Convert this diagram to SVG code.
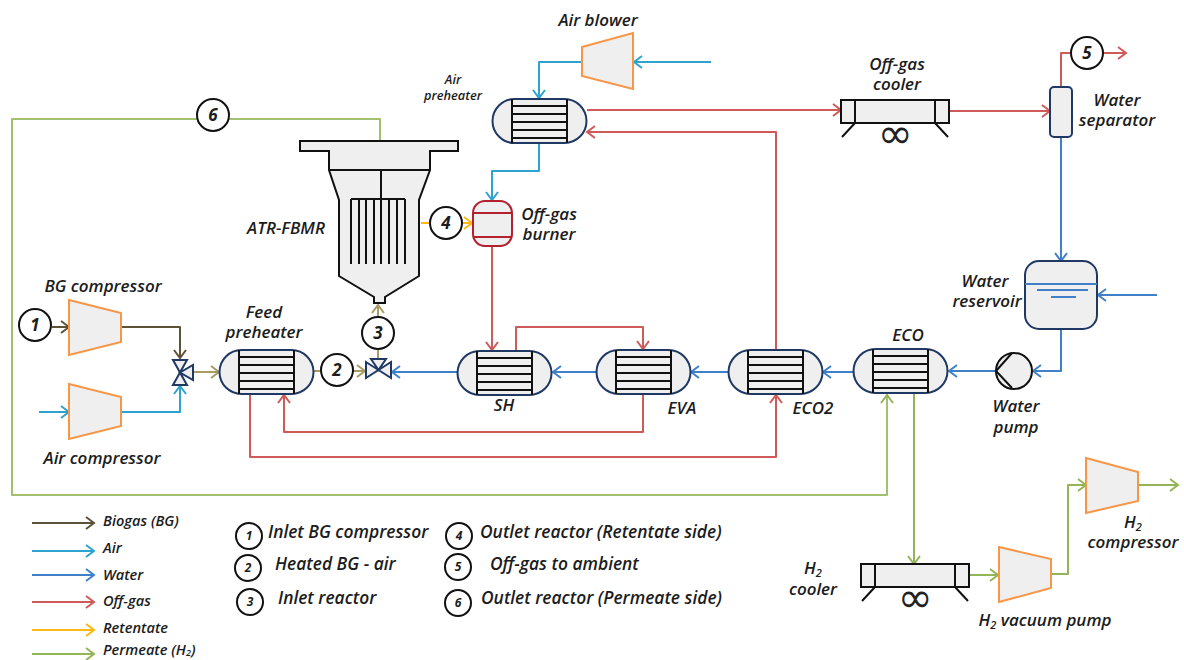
<svg xmlns="http://www.w3.org/2000/svg" width="1184" height="660" viewBox="0 0 1184 660">
<style>
.lb{font-family:"Open Sans","Liberation Sans",sans-serif;font-style:italic;font-weight:600;font-size:17px;fill:#1c1c1c;text-anchor:middle}
.lg{font-size:14.6px;text-anchor:start}
.k{font-size:17.4px;text-anchor:start}
.sm{font-size:12.8px}
.num{font-size:17px;font-weight:700}
.numk{font-size:12px;font-weight:700}
.c{fill:#fff;stroke:#111;stroke-width:2}
.eq{fill:#efefef}
.t{stroke:#f79646;stroke-width:2;fill:#efefef}
.bk{stroke:#111;stroke-width:2;fill:none}
.nv{stroke:#1f3864;stroke-width:2}
.f{fill:none;stroke-width:2;stroke-linejoin:round}
.bg{stroke:#5b5238;marker-end:url(#mbg)}
.air{stroke:#2ea3cf;marker-end:url(#mair)}
.wa{stroke:#4080c8;marker-end:url(#mwa)}
.of{stroke:#cf5a5a;marker-end:url(#mof)}
.re{stroke:#ffb912;marker-end:url(#mre)}
.pe{stroke:#93b558;marker-end:url(#mpe)}
.mx{stroke:#a89a63;marker-end:url(#mmx)}
.n{marker-end:none}
.inf{font-family:"DejaVu Sans",sans-serif;font-size:42px;fill:#222;text-anchor:middle}
</style>
<defs>
<marker id="mbg" markerUnits="userSpaceOnUse" markerWidth="12" markerHeight="14" refX="10" refY="7" orient="auto"><path d="M2,1L10,7L2,13" fill="none" stroke="#5b5238" stroke-width="2"/></marker>
<marker id="mair" markerUnits="userSpaceOnUse" markerWidth="12" markerHeight="14" refX="10" refY="7" orient="auto"><path d="M2,1L10,7L2,13" fill="none" stroke="#2ea3cf" stroke-width="2"/></marker>
<marker id="mwa" markerUnits="userSpaceOnUse" markerWidth="12" markerHeight="14" refX="10" refY="7" orient="auto"><path d="M2,1L10,7L2,13" fill="none" stroke="#4080c8" stroke-width="2"/></marker>
<marker id="mof" markerUnits="userSpaceOnUse" markerWidth="12" markerHeight="14" refX="10" refY="7" orient="auto"><path d="M2,1L10,7L2,13" fill="none" stroke="#cf5a5a" stroke-width="2"/></marker>
<marker id="mre" markerUnits="userSpaceOnUse" markerWidth="12" markerHeight="14" refX="10" refY="7" orient="auto"><path d="M2,1L10,7L2,13" fill="none" stroke="#ffb912" stroke-width="2"/></marker>
<marker id="mpe" markerUnits="userSpaceOnUse" markerWidth="12" markerHeight="14" refX="10" refY="7" orient="auto"><path d="M2,1L10,7L2,13" fill="none" stroke="#93b558" stroke-width="2"/></marker>
<marker id="mmx" markerUnits="userSpaceOnUse" markerWidth="12" markerHeight="14" refX="10" refY="7" orient="auto"><path d="M2,1L10,7L2,13" fill="none" stroke="#a89a63" stroke-width="2"/></marker>
<g id="hx">
<rect x="0.5" y="0" width="94" height="44" rx="22" class="eq nv"/>
<path d="M20,0V44M75,0V44M20,7H75M20,15H75M20,23H75M20,31H75M20,39H75" class="bk"/>
</g>
<g id="cool">
<rect x="0" y="0" width="108" height="23" class="eq" stroke="#111" stroke-width="2"/>
<path d="M14,0V23M94,0V23M14,23L1,37M94,23L107,37" class="bk"/>
</g>
</defs>

<g id="connectors">
<path class="f pe n" stroke-opacity=".85" d="M380,141V119H229"/>
<path class="f pe" stroke-opacity=".85" d="M197,119H12V495H887V395"/>
<path class="f bg" d="M52,327H69"/>
<path class="f bg" d="M121,327H180V358"/>
<path class="f air" d="M39,412H69"/>
<path class="f air" d="M121,412H180V386"/>
<path class="f mx" d="M193,372H219"/>
<path class="f mx n" d="M313,371H321"/>
<path class="f mx" d="M353,371H365"/>
<path class="f mx n" d="M378,359V349"/>
<path class="f mx" d="M378,317V305"/>
<path class="f re n" d="M421,223H430"/>
<path class="f re" d="M462,223H472"/>
<path class="f air" d="M711,62H634"/>
<path class="f air" d="M582,62H539V98"/>
<path class="f air" d="M539,143V171H492V200"/>
<path class="f of" d="M492,246V350"/>
<path class="f of" d="M516,350V327H643V349"/>
<path class="f of" d="M643,393V432H284V395"/>
<path class="f of" d="M250,393V457H776V395"/>
<path class="f of" d="M776,350V132H587"/>
<path class="f of" d="M587,110H841"/>
<path class="f of" d="M949,111H1050"/>
<path class="f of n" d="M1061,87V53H1071"/>
<path class="f of" d="M1103,53H1126"/>
<path class="f wa" d="M1061,137V261"/>
<path class="f wa" d="M1157,295H1098"/>
<path class="f wa" d="M1061,329V371H1033"/>
<path class="f wa" d="M996,371H949"/>
<path class="f wa" d="M853,372H823"/>
<path class="f wa" d="M728,372H691"/>
<path class="f wa" d="M596,372H553"/>
<path class="f wa" d="M457,372H392"/>
<path class="f pe" d="M914,393V564"/>
<path class="f pe" d="M969,575H998"/>
<path class="f pe" d="M1051,574H1068V485H1086"/>
<path class="f pe" d="M1138,485H1178"/>
</g>

<g id="bg-compressor"><path class="t" d="M69,300L121,313V342L69,355Z"/><text class="lb" x="103" y="292">BG compressor</text></g>
<g id="air-compressor"><path class="t" d="M69,384L121,397V426L69,439Z"/><text class="lb" x="102" y="464">Air compressor</text></g>
<g id="mixer"><path class="nv" fill="#efefef" d="M173,360H187L173,385H187ZM180,372.500L193,365V380Z"/></g>
<g id="feed-preheater"><use href="#hx" x="219" y="350"/><text class="lb" x="264" y="318">Feed</text><text class="lb" x="264" y="338">preheater</text></g>
<g id="valve"><path class="nv" fill="#efefef" d="M366,362L391,378V362L366,378ZM378.500,370L371,359H386Z"/></g>
<g id="reactor">
<path class="bk" style="fill:#efefef" d="M300,141H458V151H430V170L419,200V276L385,297V303H374V297L339,276V200L329,170V151H300Z"/>
<path class="bk" d="M329,170H430M381,170V264M351,199H405M351,199V264M359,199V264M366,199V264M374,199V264M389,199V264M397,199V264M405,199V264"/>
<text class="lb" x="286" y="234">ATR-FBMR</text>
</g>
<g id="burner"><rect x="473" y="201" width="39" height="45" rx="12" class="eq" stroke="#b5202e" stroke-width="2"/><path d="M473,213H512M473,237H512" stroke="#b5202e" stroke-width="2"/><text class="lb" x="549" y="220">Off-gas</text><text class="lb" x="549" y="240">burner</text></g>
<g id="air-preheater"><use href="#hx" x="492" y="99"/><text class="lb sm" x="453" y="84">Air</text><text class="lb sm" x="453" y="100">preheater</text></g>
<g id="air-blower"><path class="t" d="M582,47L633,33V89L582,76Z"/><text class="lb" x="598" y="26">Air blower</text></g>
<g id="off-gas-cooler"><use href="#cool" x="841" y="100"/><text class="inf" x="895" y="148">∞</text><text class="lb" x="897" y="70">Off-gas</text><text class="lb" x="897" y="90">cooler</text></g>
<g id="water-separator"><rect x="1050" y="87" width="22" height="50" rx="4" class="eq nv"/><text class="lb" x="1117" y="106">Water</text><text class="lb" x="1117" y="126">separator</text></g>
<g id="water-reservoir"><rect x="1025" y="261" width="72" height="68" rx="14" class="eq nv"/><path d="M1025,284H1097M1037,290H1088M1051,297H1076" stroke="#4080c8" stroke-width="2"/><text class="lb" x="985" y="287">Water</text><text class="lb" x="987" y="307">reservoir</text></g>
<g id="water-pump"><circle cx="1014" cy="371" r="18" class="eq" stroke="#111" stroke-width="2"/><path d="M1012,353L996,371L1012,388" class="bk"/><text class="lb" x="1016" y="412">Water</text><text class="lb" x="1016" y="433">pump</text></g>
<g id="eco"><use href="#hx" x="853" y="349"/><text class="lb" x="908" y="341">ECO</text></g>
<g id="eco2"><use href="#hx" x="728" y="350"/><text class="lb" x="813" y="414">ECO2</text></g>
<g id="eva"><use href="#hx" x="596" y="350"/><text class="lb" x="682" y="414">EVA</text></g>
<g id="sh"><use href="#hx" x="457" y="351"/><text class="lb" x="504" y="411">SH</text></g>
<g id="h2-cooler"><use href="#cool" x="861" y="564"/><text class="inf" x="915" y="612">∞</text><text class="lb" x="813" y="574">H<tspan font-size="11" dy="3">2</tspan></text><text class="lb" x="813" y="595">cooler</text></g>
<g id="h2-vacuum-pump"><path class="t" d="M999,547L1051,559V588L999,602Z"/><text class="lb" x="1045" y="626">H<tspan font-size="11" dy="3">2</tspan><tspan dy="-3"> vacuum pump</tspan></text></g>
<g id="h2-compressor"><path class="t" d="M1086,458L1138,472V501L1086,513Z"/><text class="lb" x="1133" y="528">H<tspan font-size="11" dy="3">2</tspan></text><text class="lb" x="1133" y="548">compressor</text></g>

<g id="point-1"><circle class="c" cx="35" cy="325" r="16"/><text class="lb num" x="35" y="331">1</text></g>
<g id="point-2"><circle class="c" cx="337" cy="370" r="16"/><text class="lb num" x="337" y="376">2</text></g>
<g id="point-3"><circle class="c" cx="378" cy="333" r="16"/><text class="lb num" x="378" y="339">3</text></g>
<g id="point-4"><circle class="c" cx="446" cy="223" r="16"/><text class="lb num" x="446" y="229">4</text></g>
<g id="point-5"><circle class="c" cx="1087" cy="53" r="16"/><text class="lb num" x="1087" y="59">5</text></g>
<g id="point-6"><circle class="c" cx="213" cy="115" r="16"/><text class="lb num" x="213" y="121">6</text></g>

<g id="legend">
<path class="f bg" d="M32,523H94"/><text class="lb lg" x="103" y="526">Biogas (BG)</text>
<path class="f air" d="M32,551H94"/><text class="lb lg" x="103" y="553">Air</text>
<path class="f wa" d="M32,575H94"/><text class="lb lg" x="103" y="580">Water</text>
<path class="f of" d="M32,602H94"/><text class="lb lg" x="103" y="606">Off-gas</text>
<path class="f re" d="M32,630H94"/><text class="lb lg" x="103" y="633">Retentate</text>
<path class="f pe" d="M32,654H94"/><text class="lb lg" x="103" y="655">Permeate (H<tspan font-size="9" dy="1">2</tspan><tspan dy="-1">)</tspan></text>
</g>
<g id="key">
<circle class="c" cx="249" cy="536" r="13"/><text class="lb numk" x="249" y="540">1</text><text class="lb k" x="268" y="538">Inlet BG compressor</text>
<circle class="c" cx="248" cy="568" r="13"/><text class="lb numk" x="248" y="572">2</text><text class="lb k" x="275" y="570">Heated BG - air</text>
<circle class="c" cx="250" cy="602" r="13"/><text class="lb numk" x="250" y="606">3</text><text class="lb k" x="278" y="604">Inlet reactor</text>
<circle class="c" cx="459" cy="536" r="13"/><text class="lb numk" x="459" y="540">4</text><text class="lb k" x="480" y="538">Outlet reactor (Retentate side)</text>
<circle class="c" cx="458" cy="567" r="13"/><text class="lb numk" x="458" y="571">5</text><text class="lb k" x="490" y="570">Off-gas to ambient</text>
<circle class="c" cx="458" cy="603" r="13"/><text class="lb numk" x="458" y="607">6</text><text class="lb k" x="481" y="604">Outlet reactor (Permeate side)</text>
</g>
</svg>
